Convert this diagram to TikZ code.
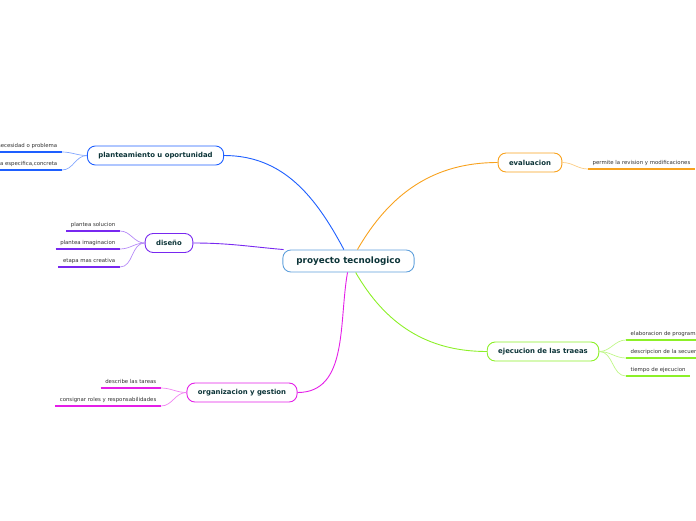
\documentclass[tikz,border=0pt]{standalone}
\usepackage{fontspec}
\setmainfont{DejaVu Sans}
\definecolor{txtdark}{RGB}{12,52,56}
\definecolor{subtxt}{RGB}{50,50,50}
\definecolor{projblue}{RGB}{95,160,220}
\definecolor{planblue}{RGB}{30,95,255}
\definecolor{disviolet}{RGB}{120,40,240}
\definecolor{orgmagenta}{RGB}{228,30,232}
\definecolor{evalorange}{RGB}{248,162,30}
\definecolor{ejecgreen}{RGB}{140,240,40}
\tikzset{
  topic/.style={draw=#1, line width=0.9pt, rounded corners=8pt, fill=white,
    text=txtdark, font=\fontsize{6.9}{8}\selectfont\bfseries,
    minimum height=19pt, inner xsep=11pt},
  sub/.style={font=\fontsize{5.4}{6}\selectfont, text=subtxt,
    inner xsep=4.5pt, inner ysep=3.1pt, text height=3.8pt, text depth=1.3pt},
  uline/.style={line width=1.6pt, #1},
  link/.style={line width=0.9pt, #1},
  twig/.style={line width=0.7pt, #1!55}
}
\begin{document}
\begin{tikzpicture}[x=1pt, y=-1pt]
\useasboundingbox (0,0) rectangle (696,520);
\clip (0,0) rectangle (696,520);
% central topic
\node[topic=projblue, minimum height=22pt, inner xsep=13.5pt,
  font=\fontsize{8.8}{10}\selectfont\bfseries] (proj) at (348.5,261) {proyecto tecnologico};
% main topics
\node[topic=planblue] (plan) at (155.5,155.5) {planteamiento u oportunidad};
\node[topic=disviolet] (dis) at (169,243) {diseño};
\node[topic=orgmagenta] (org) at (242,392.5) {organizacion y gestion};
\node[topic=evalorange] (eval) at (530,162.5) {evaluacion};
\node[topic=ejecgreen] (ejec) at (543,351.5) {ejecucion de las traeas};
% links
\draw[link=planblue] (proj.112) to[out=118, in=0] (plan.east);
\draw[link=disviolet] (proj.170) to[out=175, in=0] (dis.east);
\draw[link=orgmagenta] (proj.265) to[out=-100, in=0] (org.east);
\draw[link=evalorange] (proj.52) to[out=60, in=180] (eval.west);
\draw[link=ejecgreen] (proj.302) to[out=-60, in=180] (ejec.west);
% planteamiento
\node[sub, anchor=south east] (nec) at (62,152) {necesidad o problema};
\node[sub, anchor=south east] (resp) at (62,170) {respuesta especifica,concreta};
\foreach \s in {nec, resp} {
  \draw[uline=planblue] (\s.south west) -- (\s.south east);
  \draw[twig=planblue] (plan.west) to[out=180, in=0] (\s.south east);
}
% diseno
\node[sub, anchor=south east] (sol) at (120,231) {plantea solucion};
\node[sub, anchor=south east] (ima) at (120,249) {plantea imaginacion};
\node[sub, anchor=south east] (cre) at (120,267) {etapa mas creativa};
\foreach \s in {sol, ima, cre} {
  \draw[uline=disviolet] (\s.south west) -- (\s.south east);
  \draw[twig=disviolet] (dis.west) to[out=180, in=0] (\s.south east);
}
% organizacion
\node[sub, anchor=south east] (tar) at (161,388) {describe las tareas};
\node[sub, anchor=south east] (rol) at (161,406) {consignar roles y responsabilidades};
\foreach \s in {tar, rol} {
  \draw[uline=orgmagenta] (\s.south west) -- (\s.south east);
  \draw[twig=orgmagenta] (org.west) to[out=180, in=0] (\s.south east);
}
% evaluacion
\node[sub, anchor=south west] (rev) at (588,169) {permite la revision y modificaciones};
\draw[uline=evalorange] (rev.south west) -- (rev.south east);
\draw[twig=evalorange] (eval.east) to[out=0, in=180] (rev.south west);
% ejecucion
\node[sub, anchor=south west] (prog) at (626,340) {elaboracion de programas};
\node[sub, anchor=south west] (sec) at (626,358) {descripcion de la secuencia};
\node[sub, anchor=south west] (tie) at (626,376) {tiempo de ejecucion};
\foreach \s in {prog, sec, tie} {
  \draw[uline=ejecgreen] (\s.south west) -- (\s.south east);
  \draw[twig=ejecgreen] (ejec.east) to[out=0, in=180] (\s.south west);
}
\end{tikzpicture}
\end{document}
